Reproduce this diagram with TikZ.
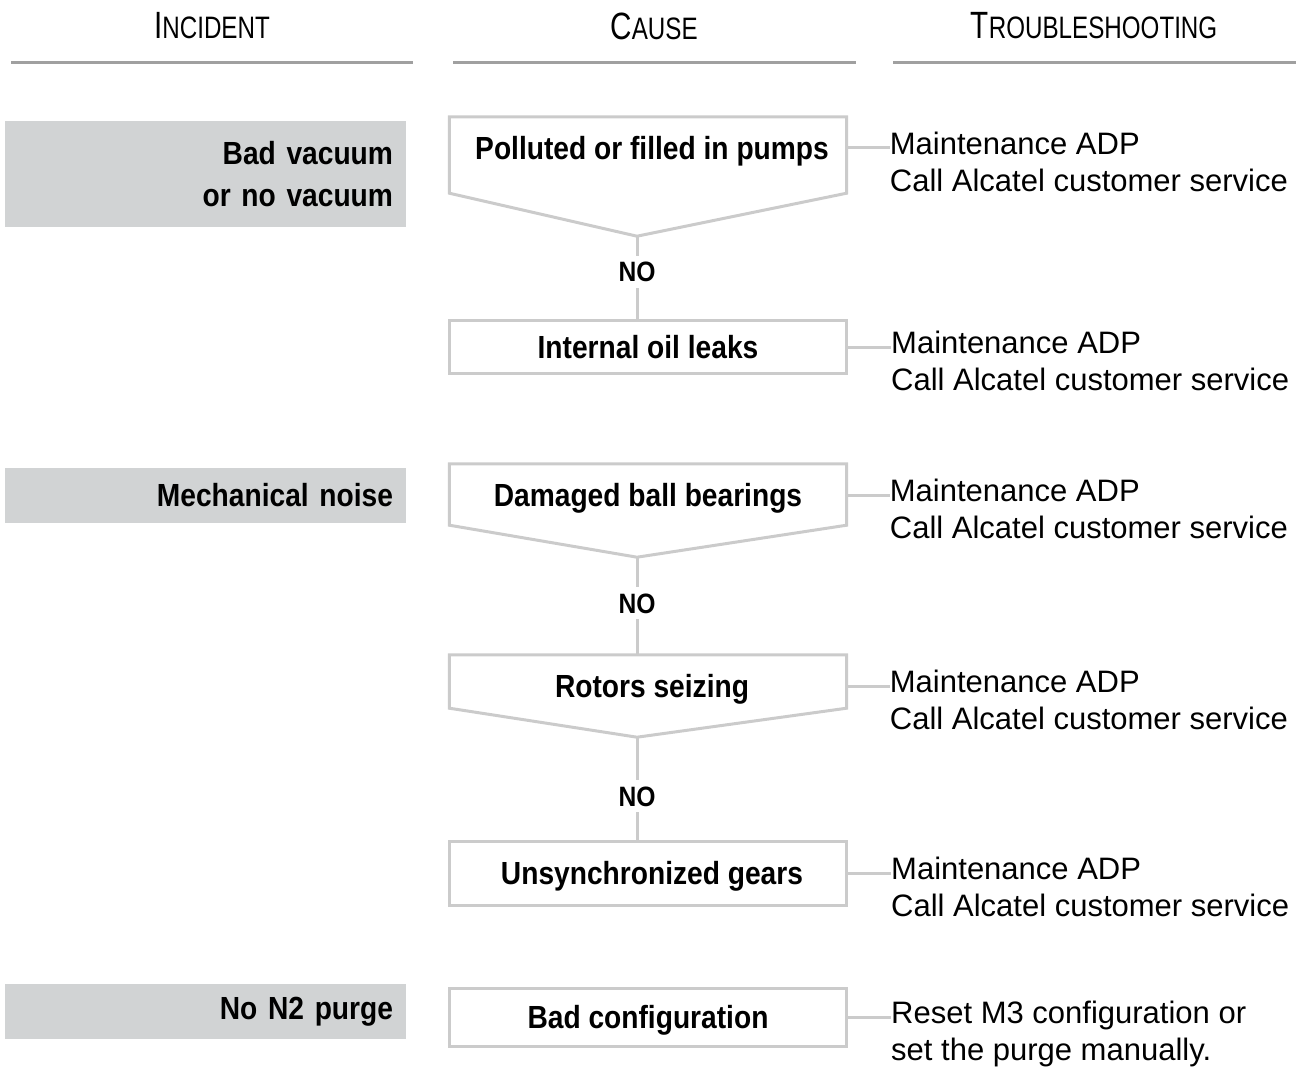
\documentclass[tikz,border=0pt]{standalone}
\usepackage{fontspec}
\setmainfont{Liberation Sans}[BoldFeatures={FakeStretch=0.88}]
\newfontfamily\headfont{Liberation Sans}[FakeStretch=0.78]
\usepackage{tikz}
\usetikzlibrary{calc,positioning}
\definecolor{boxgray}{HTML}{D1D3D4}
\definecolor{framegray}{HTML}{CBCBCB}
\definecolor{rulegray}{HTML}{A0A0A0}
\newcommand{\smcap}[2]{{\fontsize{38}{40}\selectfont #1}{\fontsize{31}{33}\selectfont #2}}
\newcommand{\causeframe}[3]{\draw[frame] (#1.north west) -- ($(#1.south west)+(0,#2)$) -- ($(#1.south)+(-11,#3)$) coordinate (#1-tip) -- ($(#1.south east)+(0,#2)$) -- (#1.north east) -- cycle;}

\begin{document}
\begin{tikzpicture}[x=1pt,y=-1pt,every node/.style={inner sep=0pt},
  head/.style={font=\headfont},
  incident/.style={fill=boxgray,text width=375pt,inner xsep=13pt,align=right,font=\fontsize{32}{42}\selectfont\bfseries},
  cause/.style={minimum width=397pt,text height=23pt,text depth=0pt,font=\fontsize{32}{38}\selectfont\bfseries},
  causebox/.style={cause,draw=framegray,line width=3pt},
  frame/.style={draw=framegray,line width=3pt},
  link/.style={draw=framegray,line width=3pt},
  fix/.style={align=left,font=\fontsize{31}{37}\selectfont},
  no/.style={text height=20pt,text depth=0pt,inner sep=6pt,font=\fontsize{28}{30}\selectfont\bfseries},
  rule/.style={draw=rulegray,line width=3pt}]
\useasboundingbox (0,0) rectangle (1306,1067);
\node[head] (h1) at (212,26) {\smcap{I}{NCIDENT}};
\node[head] (h2) at (654,26) {\smcap{C}{AUSE}};
\node[head] (h3) at (1094,26) {\smcap{T}{ROUBLESHOOTING}};
\draw[rule] (11,63) -- (413,63); \draw[rule] (453,63) -- (856,63); \draw[rule] (893,63) -- (1296,63);
\node[incident,minimum height=106pt] (i1) at (205.5,174) {Bad vacuum\\or no vacuum};
\node[incident,minimum height=55pt] (i2) at (205.5,495.5) {Mechanical noise};
\node[incident,minimum height=55pt] (i3) at (205.5,1011.5) {No N2 purge};
\node[cause,minimum height=62pt] (c1) at (648,148) {\hspace{8pt}Polluted or filled in pumps};
\causeframe{c1}{14}{57}
\node[causebox,minimum height=53pt] (c2) at (648,347) {Internal oil leaks};
\node[cause,minimum height=62pt] (c3) at (648,495) {Damaged ball bearings};
\causeframe{c3}{-1}{31}
\node[cause,minimum height=62pt] (c4) at (648,686) {\hspace{8pt}Rotors seizing};
\causeframe{c4}{-9}{20}
\node[causebox,minimum height=64pt] (c5) at (648,873) {\hspace{8pt}Unsynchronized gears};
\node[causebox,minimum height=58pt] (c6) at (648,1017) {Bad configuration};
\node[no] (no1) at (637,272) {NO};
\node[no] (no2) at (637,603) {NO};
\node[no] (no3) at (637,796) {NO};
\draw[link] (c1-tip) -- (no1) -- (no1 |- c2.north);
\draw[link] (c3-tip) -- (no2) -- (no2 |- c4.north);
\draw[link] (c4-tip) -- (no3) -- (no3 |- c5.north);
\node[fix,anchor=north west] (t1) at ([xshift=43pt,yshift=16pt]c1.east) {Maintenance ADP\\Call Alcatel customer service};
\node[fix,anchor=north west] (t2) at ([xshift=43pt,yshift=16pt]c2.east) {Maintenance ADP\\Call Alcatel customer service};
\node[fix,anchor=north west] (t3) at ([xshift=43pt,yshift=16pt]c3.east) {Maintenance ADP\\Call Alcatel customer service};
\node[fix,anchor=north west] (t4) at ([xshift=43pt,yshift=16pt]c4.east) {Maintenance ADP\\Call Alcatel customer service};
\node[fix,anchor=north west] (t5) at ([xshift=43pt,yshift=16pt]c5.east) {Maintenance ADP\\Call Alcatel customer service};
\node[fix,anchor=north west] (t6) at ([xshift=43pt,yshift=16pt]c6.east) {Reset M3 configuration or\\set the purge manually.};
\draw[link] (c1.east) -- (t1.west |- c1.east); \draw[link] (c2.east) -- (t2.west |- c2.east);
\draw[link] (c3.east) -- (t3.west |- c3.east); \draw[link] (c4.east) -- (t4.west |- c4.east);
\draw[link] (c5.east) -- (t5.west |- c5.east); \draw[link] (c6.east) -- (t6.west |- c6.east);
\end{tikzpicture}
\end{document}
